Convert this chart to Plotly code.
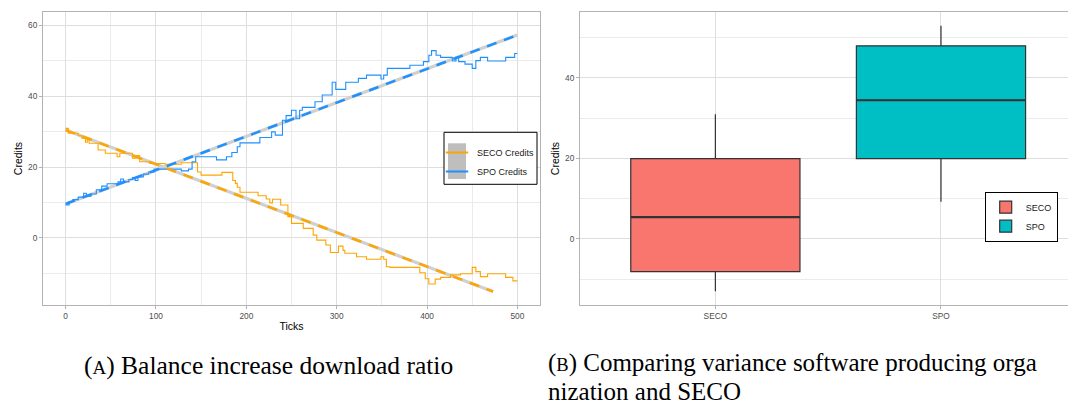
import plotly.graph_objects as go

W, H = 1068, 405

# Credit balance over simulation ticks (step series)
seco_ticks = [0, 3, 14, 18, 22, 24, 26, 36, 44, 57, 60, 74, 78, 82, 93, 110, 128, 146, 150, 173,
              185, 188, 190, 193, 213, 222, 226, 229, 238, 246, 250, 263, 274, 278, 288, 293, 302, 307, 309, 322,
              333, 349, 352, 355, 359, 392, 398, 402, 409, 415, 426, 437, 450, 454, 459, 467, 487, 495, 500]
seco_credits = [30.9, 29.5, 28.8, 28.1, 27.0, 28.1, 26.7, 24.8, 23.9, 22.9, 23.9, 22.5, 23.2, 21.5, 21.0, 20.8, 21.2, 18.6, 17.7, 18.5,
                16.2, 15.4, 14.3, 12.9, 11.9, 11.0, 9.9, 10.9, 9.3, 6.0, 4.1, 2.7, 0.8, -0.6, -2.0, -4.1, -2.3, -3.5, -4.3, -5.3,
                -6.0, -5.3, -6.0, -8.1, -8.3, -9.8, -11.5, -13.0, -11.6, -11.1, -10.4, -10.1, -8.3, -9.5, -10.9, -10.1, -11.1, -12.1, -12.1]

spo_ticks = [0, 4, 8, 14, 20, 23, 28, 34, 40, 46, 58, 61, 64, 70, 74, 77, 80, 86, 92, 98,
             128, 136, 140, 144, 167, 178, 184, 190, 193, 215, 228, 232, 240, 244, 250, 255, 259, 262, 276, 284,
             295, 299, 310, 324, 333, 349, 352, 356, 381, 396, 402, 405, 410, 415, 428, 432, 435, 442, 450, 454,
             459, 467, 487, 497, 500]
spo_credits = [9.3, 10.2, 10.8, 11.5, 12.6, 11.8, 12.4, 13.6, 14.6, 15.3, 15.8, 16.6, 15.8, 16.5, 17.0, 16.2, 17.2, 18.0, 18.6, 19.4,
               18.9, 19.4, 21.5, 22.9, 22.0, 22.9, 24.1, 25.7, 26.8, 28.3, 29.9, 29.0, 33.2, 34.5, 36.0, 33.6, 36.0, 36.8, 38.4, 40.3,
               43.9, 41.9, 43.9, 45.0, 45.9, 44.8, 45.9, 47.8, 48.7, 49.7, 51.5, 52.8, 51.5, 50.9, 49.9, 50.9, 49.7, 49.0, 47.8, 50.0,
               50.9, 49.9, 50.9, 52.0, 52.0]

# Linear trend (lm fit) end points
seco_trend_ticks = [0, 473]
seco_trend_credits = [30.4, -15.1]
spo_trend_ticks = [0, 500]
spo_trend_credits = [9.6, 57.2]

# Box plot summaries per organisation type
groups = ["SECO", "SPO"]
box_low = [-13.0, 9.2]
box_q1 = [-8.1, 19.9]
box_median = [5.4, 34.4]
box_q3 = [19.9, 47.9]
box_high = [30.9, 52.9]
box_fill = ["#F8766D", "#00BFC4"]
box_width = 0.75

ORANGE = "#FFA500"
BLUE = "#1E90FF"
TREND_GREY = "#D0D0D0"
KEY_GREY = "#BEBEBE"
GRID_MAJOR = "#DEDEDE"
GRID_MINOR = "#EBEBEB"
BORDER = "#B3B3B3"
TICK_TXT = "#4D4D4D"
SANS = "Liberation Sans, Arial, sans-serif"
SERIF = "Liberation Serif, Times New Roman, serif"


def px(x):
    return x / W


def py(y):
    return 1 - y / H


fig = go.Figure()

# ---- panel A: credits over time ----
for tx, ty in ((seco_trend_ticks, seco_trend_credits), (spo_trend_ticks, spo_trend_credits)):
    fig.add_trace(go.Scatter(x=tx, y=ty, mode="lines", line=dict(color=TREND_GREY, width=3.2),
                             showlegend=False, hoverinfo="skip", xaxis="x", yaxis="y"))

fig.add_trace(go.Scatter(x=seco_ticks, y=seco_credits, mode="lines", line_shape="hv",
                         line=dict(color=ORANGE, width=1.1), showlegend=False, xaxis="x", yaxis="y"))
fig.add_trace(go.Scatter(x=spo_ticks, y=spo_credits, mode="lines", line_shape="hv",
                         line=dict(color=BLUE, width=1.1), showlegend=False, xaxis="x", yaxis="y"))

fig.add_trace(go.Scatter(x=seco_trend_ticks, y=seco_trend_credits, mode="lines",
                         line=dict(color=ORANGE, width=2.5, dash="10px,8px"),
                         showlegend=False, hoverinfo="skip", xaxis="x", yaxis="y"))
fig.add_trace(go.Scatter(x=spo_trend_ticks, y=spo_trend_credits, mode="lines",
                         line=dict(color=BLUE, width=2.5, dash="10px,8px"),
                         showlegend=False, hoverinfo="skip", xaxis="x", yaxis="y"))

# legend keys for panel A
for name, col in (("SECO Credits", ORANGE), ("SPO Credits", BLUE)):
    fig.add_trace(go.Scatter(x=[None], y=[None], mode="markers", name=name,
                             marker=dict(symbol="line-ew", size=16, line=dict(color=col, width=2)),
                             legend="legend", xaxis="x", yaxis="y"))

# ---- panel B: box plots ----
for i, g in enumerate(groups):
    fig.add_trace(go.Box(x=[i], q1=[box_q1[i]], median=[box_median[i]], q3=[box_q3[i]],
                         lowerfence=[box_low[i]], upperfence=[box_high[i]], name=g,
                         width=box_width, whiskerwidth=0, fillcolor=box_fill[i],
                         line=dict(color="#333333", width=1.2), boxpoints=False,
                         legend="legend2", xaxis="x2", yaxis="y2", hoverinfo="skip"))
    fig.add_trace(go.Scatter(x=[i - box_width / 2, i + box_width / 2], y=[box_median[i]] * 2,
                             mode="lines", line=dict(color="#333333", width=2.2),
                             showlegend=False, hoverinfo="skip", xaxis="x2", yaxis="y2"))

axis_common = dict(showline=True, linecolor=BORDER, linewidth=1, mirror=True, zeroline=False,
                   showgrid=True, gridcolor=GRID_MAJOR, gridwidth=1,
                   ticks="outside", ticklen=3, tickcolor=BORDER,
                   tickfont=dict(family=SANS, size=8.3, color=TICK_TXT))
title_font = dict(family=SANS, size=10.5, color="#000000")
caption_a_font = dict(family=SERIF, size=25.5, color="#000000")
caption_b_font = dict(family=SERIF, size=25, color="#000000")

fig.update_layout(
    width=W, height=H, margin=dict(l=0, r=0, t=0, b=0),
    paper_bgcolor="white", plot_bgcolor="white",
    font=dict(family=SANS, color=TICK_TXT),
    xaxis=dict(domain=[px(43), px(540)], range=[-25, 525], tick0=0, dtick=100,
               minor=dict(dtick=50, showgrid=True, gridcolor=GRID_MINOR, gridwidth=0.6),
               title=dict(text="Ticks", font=title_font, standoff=2), anchor="y", **axis_common),
    yaxis=dict(domain=[py(305), py(12)], range=[-18.9, 63.7], tick0=0, dtick=20,
               minor=dict(dtick=10, showgrid=True, gridcolor=GRID_MINOR, gridwidth=0.6),
               title=dict(text="Credits", font=title_font, standoff=3), anchor="x", **axis_common),
    xaxis2=dict(domain=[px(580), 1.0], range=[-0.6, 1.563], tickvals=[0, 1], ticktext=groups,
                anchor="y2", **axis_common),
    yaxis2=dict(domain=[py(305), py(12)], range=[-16.4, 56.3], tick0=0, dtick=20,
                minor=dict(dtick=10, showgrid=True, gridcolor=GRID_MINOR, gridwidth=0.6),
                title=dict(text="Credits", font=title_font, standoff=3), anchor="x2", **axis_common),
    legend=dict(x=px(437), y=py(138), xanchor="left", yanchor="top",
                bgcolor="rgba(0,0,0,0)", borderwidth=0,
                font=dict(family=SANS, size=9, color="#1A1A1A")),
    legend2=dict(x=px(1057.7), y=py(191.7), xanchor="right", yanchor="top",
                 bgcolor="white", bordercolor="#000000", borderwidth=1,
                 font=dict(family=SANS, size=9, color="#1A1A1A")),
    shapes=[
        dict(type="rect", xref="paper", yref="paper", x0=px(444), x1=px(537), y0=py(184.3), y1=py(132.3),
             fillcolor="white", line=dict(color="#000000", width=1), layer="above"),
        dict(type="rect", xref="paper", yref="paper", x0=px(448), x1=px(466), y0=py(179), y1=py(143.3),
             fillcolor=KEY_GREY, line=dict(width=0), layer="above"),
    ],
    annotations=[
        dict(text="(<span style='font-size:19px'>A</span>) Balance increase download ratio",
             xref="paper", yref="paper", x=px(268), y=py(365.3), xanchor="center", yanchor="middle",
             showarrow=False, font=caption_a_font),
        dict(text="(<span style='font-size:18.5px'>B</span>) Comparing variance software producing orga",
             xref="paper", yref="paper", x=px(546), y=py(362.5), xanchor="left", yanchor="middle",
             showarrow=False, font=caption_b_font),
        dict(text="nization and SECO",
             xref="paper", yref="paper", x=px(546), y=py(391), xanchor="left", yanchor="middle",
             showarrow=False, font=caption_b_font),
    ],
)

fig.write_html("out.html")
